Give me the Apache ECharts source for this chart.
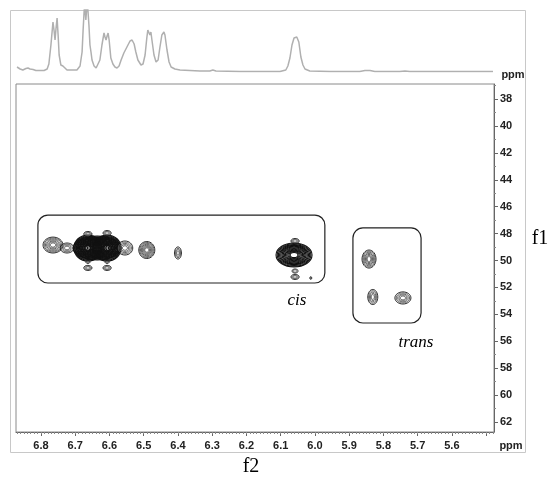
<!DOCTYPE html>
<html><head><meta charset="utf-8">
<script src="https://cdn.jsdelivr.net/npm/echarts@6/dist/echarts.min.js"></script>
<style>html,body{margin:0;padding:0;background:#fff}#c{width:552px;height:479px}</style>
</head><body><div id="c"></div>
<script>
// 1D proton projection (f2, ppm) and intensity (arbitrary units)
const spec1DShift = [6.870,6.861,6.853,6.844,6.838,6.832,6.829,6.823,6.815,6.791,6.782,6.777,6.771,6.765,6.762,6.759,6.756,6.753,6.750,6.747,6.742,6.736,6.730,6.724,6.695,6.686,6.680,6.677,6.674,6.672,6.669,6.666,6.663,6.660,6.657,6.654,6.651,6.645,6.639,6.634,6.628,6.622,6.616,6.613,6.610,6.607,6.604,6.601,6.596,6.590,6.584,6.578,6.572,6.566,6.558,6.549,6.540,6.534,6.528,6.523,6.517,6.508,6.502,6.496,6.491,6.488,6.485,6.482,6.479,6.476,6.470,6.464,6.458,6.453,6.447,6.441,6.438,6.432,6.426,6.420,6.409,6.394,6.336,6.307,6.298,6.289,6.219,6.102,6.085,6.079,6.073,6.067,6.061,6.058,6.056,6.053,6.050,6.047,6.041,6.035,6.029,6.015,5.956,5.869,5.854,5.839,5.825,5.752,5.737,5.723,5.480];
const spec1DIntensity = [5,3,2,3.5,4,3,4,2.5,1.5,1.5,3,8,27,50,42,32,44,54,37,17,7,6,4,2,2,6,20,42,61,67,52,67,62,47,27,20,12,6,4,6,12,27,39,35,32,36,39,32,14,8,5,4,6,12,19,25,31,32,28,20,12,7,8,17,34,42,40,37,40,32,17,10,12,24,37,40,37,22,10,5,3,2,1,1,2,1,0.5,0.5,2,6,14,27,34,36,32,35,36,30,15,7,3,1,0.5,0.5,1.5,1.5,0.5,0.5,1,0.5,0.5];

// Axis ranges and ticks
const f2Range = [5.477, 6.873];
const f1Range = [36.885, 62.74];
const f2TickLabels = [6.8,6.7,6.6,6.5,6.4,6.3,6.2,6.1,6.0,5.9,5.8,5.7,5.6];
const f2MajorTicks = [6.8,6.7,6.6,6.5,6.4,6.3,6.2,6.1,6.0,5.9,5.8,5.7,5.6,5.5];
const f1TickLabels = [38,40,42,44,46,48,50,52,54,56,58,60,62];
const f1MinorTicks = [37,39,41,43,45,47,49,51,53,55,57,59,61];

// 2D cross peaks: f2 (ppm), f1 (ppm), half widths, relative intensity
const peakF2 = [6.765,6.724,6.636,6.663,6.607,6.555,6.663,6.607,6.663,6.663,6.607,6.607,6.491,6.400,6.061,6.058,6.058,6.058,6.012,5.842,5.831,5.743];
const peakF1 = [48.85,49.07,49.07,49.07,49.07,49.07,48.03,47.96,50.11,50.55,50.11,50.55,49.22,49.44,49.59,48.55,50.78,51.22,51.30,49.89,52.71,52.78];
const peakWidthF2 = [0.029,0.020,0.070,0.041,0.041,0.023,0.012,0.012,0.006,0.012,0.006,0.012,0.0234,0.0102,0.0526,0.012,0.009,0.012,0.003,0.0204,0.0146,0.0234];
const peakWidthF1 = [0.59,0.37,0.89,0.97,0.97,0.52,0.19,0.19,0.11,0.19,0.11,0.19,0.63,0.45,0.89,0.19,0.15,0.19,0.10,0.67,0.56,0.45];
const peakIntensity = [0.5,0.3,1,1,1,0.35,0.2,0.2,0.15,0.2,0.15,0.2,0.6,0.3,1,0.2,0.15,0.2,0.1,0.55,0.35,0.35];

// Grouping boxes [f2 left, f1 top, f2 right, f1 bottom]
const cisBox = [6.809, 46.62, 5.971, 51.67];
const transBox = [5.889, 47.58, 5.690, 54.64];

const f2MinorTicks = [];
for (let i = 548; i <= 687; i++) f2MinorTicks.push(i / 100);

const specData = spec1DShift.map((x, i) => [x, spec1DIntensity[i]]);
const peakData = peakF2.map((x, i) => [x, peakF1[i], peakWidthF2[i], peakWidthF1[i], peakIntensity[i]]);
const boxData = [cisBox, transBox];

function renderPeak(params, api) {
  const c = api.coord([api.value(0), api.value(1)]);
  const s = api.size([api.value(2), api.value(3)]);
  const rx = Math.abs(s[0]), ry = Math.abs(s[1]);
  const inten = api.value(4);
  const strong = inten >= 0.9;
  const n = Math.max(2, Math.round(inten * 13));
  const children = [];
  for (let k = 0; k < n; k++) {
    const f = 1 - k * (0.85 / n);
    children.push({
      type: 'ellipse',
      shape: { cx: c[0], cy: c[1], rx: rx * f, ry: ry * f },
      style: { fill: 'none', stroke: (k === 0 || strong) ? '#111' : '#555', lineWidth: strong ? 1.1 : 0.9 }
    });
  }
  return { type: 'group', children };
}

function renderBox(params, api) {
  const p1 = api.coord([api.value(0), api.value(1)]);
  const p2 = api.coord([api.value(2), api.value(3)]);
  return {
    type: 'rect',
    shape: { x: Math.min(p1[0], p2[0]), y: Math.min(p1[1], p2[1]), width: Math.abs(p2[0] - p1[0]), height: Math.abs(p2[1] - p1[1]), r: 10 },
    style: { fill: 'none', stroke: '#222', lineWidth: 1.2 }
  };
}

const labelFont = { fontFamily: '"Liberation Sans", Arial, sans-serif', fontWeight: 'bold', fontSize: 11, color: '#222' };

const chart = echarts.init(document.getElementById('c'), null, { renderer: 'canvas' });
chart.setOption({
  animation: false,
  backgroundColor: '#fff',
  grid: [
    { left: 16, right: 58, top: 10, height: 62 },
    { left: 16, right: 58, top: 84, bottom: 47, show: true, borderColor: '#8a8a8a', borderWidth: 1 }
  ],
  xAxis: [
    { gridIndex: 0, type: 'value', min: f2Range[0], max: f2Range[1], inverse: true, show: false },
    { gridIndex: 1, type: 'value', min: f2Range[0], max: f2Range[1], inverse: true, position: 'bottom',
      axisLine: { show: true, lineStyle: { color: '#666' } },
      axisTick: { show: true, length: 4, customValues: f2MajorTicks, lineStyle: { color: '#666' } },
      axisLabel: Object.assign({ show: true, margin: 8, customValues: f2TickLabels, formatter: v => Number(v).toFixed(1) }, labelFont),
      splitLine: { show: false } },
    { gridIndex: 1, type: 'value', min: f2Range[0], max: f2Range[1], inverse: true, position: 'bottom',
      axisLine: { show: false },
      axisTick: { show: true, length: 2, customValues: f2MinorTicks, lineStyle: { color: '#888' } },
      axisLabel: { show: false }, splitLine: { show: false } }
  ],
  yAxis: [
    { gridIndex: 0, type: 'value', min: 0, max: 62, show: false },
    { gridIndex: 1, type: 'value', min: f1Range[0], max: f1Range[1], inverse: true, position: 'right',
      axisLine: { show: true, lineStyle: { color: '#666' } },
      axisTick: { show: true, length: 4, customValues: f1TickLabels, lineStyle: { color: '#666' } },
      axisLabel: Object.assign({ show: true, margin: 6, customValues: f1TickLabels, formatter: v => String(Math.round(v)) }, labelFont),
      splitLine: { show: false } },
    { gridIndex: 1, type: 'value', min: f1Range[0], max: f1Range[1], inverse: true, position: 'right',
      axisLine: { show: false },
      axisTick: { show: true, length: 2, customValues: f1MinorTicks, lineStyle: { color: '#888' } },
      axisLabel: { show: false }, splitLine: { show: false } }
  ],
  series: [
    { type: 'line', xAxisIndex: 0, yAxisIndex: 0, data: specData, symbol: 'none', clip: true,
      lineStyle: { color: '#b0b0b0', width: 1.5 }, silent: true },
    { type: 'custom', xAxisIndex: 1, yAxisIndex: 1, data: peakData, renderItem: renderPeak, silent: true },
    { type: 'custom', xAxisIndex: 1, yAxisIndex: 1, data: boxData, renderItem: renderBox, silent: true }
  ],
  graphic: [
    { type: 'rect', shape: { x: 10.5, y: 10.5, width: 515, height: 442 }, style: { fill: 'none', stroke: '#c8c8c8', lineWidth: 1 }, silent: true },
    { type: 'text', x: 513, y: 75, style: { text: 'ppm', textAlign: 'center', textVerticalAlign: 'middle', font: 'bold 11px "Liberation Sans", Arial, sans-serif', fill: '#222' } },
    { type: 'text', x: 511, y: 446, style: { text: 'ppm', textAlign: 'center', textVerticalAlign: 'middle', font: 'bold 11px "Liberation Sans", Arial, sans-serif', fill: '#222' } },
    { type: 'text', x: 540, y: 239, style: { text: 'f1', textAlign: 'center', textVerticalAlign: 'middle', font: '20px "Liberation Serif", "Times New Roman", serif', fill: '#000' } },
    { type: 'text', x: 251, y: 467, style: { text: 'f2', textAlign: 'center', textVerticalAlign: 'middle', font: '20px "Liberation Serif", "Times New Roman", serif', fill: '#000' } },
    { type: 'text', x: 297, y: 301, style: { text: 'cis', textAlign: 'center', textVerticalAlign: 'middle', font: 'italic 17px "Liberation Serif", "Times New Roman", serif', fill: '#000' } },
    { type: 'text', x: 416, y: 343, style: { text: 'trans', textAlign: 'center', textVerticalAlign: 'middle', font: 'italic 17px "Liberation Serif", "Times New Roman", serif', fill: '#000' } }
  ]
});
</script>
</body></html>
